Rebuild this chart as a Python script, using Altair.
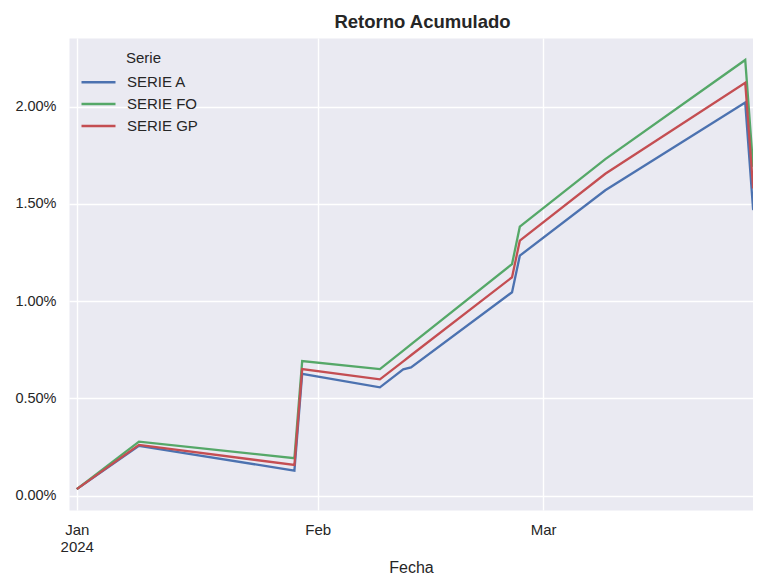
import altair as alt
import pandas as pd

# Dates (vertices)
fechas = [
    "2024-01-01", "2024-01-09", "2024-01-29", "2024-01-30", "2024-02-09",
    "2024-02-12", "2024-02-13", "2024-02-26", "2024-02-27", "2024-03-09",
    "2024-03-27", "2024-03-28", "2024-03-29",
]
# Cumulative return in percent
serie_a = [0.034, 0.256, 0.129, 0.626, 0.557, 0.650, 0.660, 1.046, 1.234, 1.570, 2.021, 1.478, 1.512]
serie_fo = [0.034, 0.278, 0.193, 0.692, 0.651, 0.746, 0.778, 1.191, 1.383, 1.730, 2.240, 1.700, 1.735]
serie_gp = [0.034, 0.261, 0.158, 0.651, 0.598, 0.691, 0.722, 1.123, 1.311, 1.655, 2.123, 1.589, 1.623]

series = {"SERIE A": serie_a, "SERIE FO": serie_fo, "SERIE GP": serie_gp}
colors = ["#4C72B0", "#55A868", "#C44E52"]

rows = []
for name, vals in series.items():
    for f, v in zip(fechas, vals):
        rows.append({"Fecha": f + "T00:00:00", "Serie": name, "Retorno": v / 100.0})
df = pd.DataFrame(rows)

FONT = "Liberation Sans"
TXT = "#262626"

x_enc = alt.X(
    "Fecha:T",
    title="Fecha",
    scale=alt.Scale(domain=[alt.DateTime(year=2023, month=12, date=31),
                            alt.DateTime(year=2024, month=3, date=28)]),
    axis=alt.Axis(
        values=[alt.DateTime(year=2024, month=1, date=1),
                alt.DateTime(year=2024, month=2, date=1),
                alt.DateTime(year=2024, month=3, date=1)],
        labelExpr="month(datum.value) == 0 ? [timeFormat(datum.value, '%b'), timeFormat(datum.value, '%Y')] : timeFormat(datum.value, '%b')",
        labelFlush=False,
        labelFontSize=15,
        labelLineHeight=17,
        labelPadding=12,
        titleFontSize=16,
        titleFontWeight="normal",
        titlePadding=5,
    ),
)

y_enc = alt.Y(
    "Retorno:Q",
    title=None,
    scale=alt.Scale(domain=[-0.000735, 0.02353], nice=False, zero=False),
    axis=alt.Axis(
        values=[0, 0.005, 0.01, 0.015, 0.02],
        format=".2%",
        labelFontSize=14.5,
        labelPadding=13,
        minExtent=56,
        maxExtent=56,
    ),
)

color_enc = alt.Color(
    "Serie:N",
    scale=alt.Scale(domain=list(series.keys()), range=colors),
    legend=alt.Legend(
        orient="none",
        legendX=19.5,
        legendY=13.3,
        title="Serie",
        titleAnchor="middle",
        titleFontSize=15,
        titleFontWeight="normal",
        titleColor=TXT,
        titleFont=FONT,
        titlePadding=6,
        labelFontSize=15,
        labelColor=TXT,
        labelFont=FONT,
        labelOffset=18.5,
        symbolType="M-2,0H2",
        symbolSize=289,
        symbolStrokeWidth=2.5,
        rowPadding=3.8,
        padding=0,
    ),
)

chart = (
    alt.Chart(df)
    .mark_line(strokeWidth=2.3, clip=True)
    .encode(x=x_enc, y=y_enc, color=color_enc)
    .properties(
        width=684,
        height=472,
        padding={"left": 5, "top": 5, "right": 0, "bottom": 0},
        title=alt.TitleParams(
            text="Retorno Acumulado",
            fontSize=18.5,
            fontWeight="bold",
            font=FONT,
            color=TXT,
            anchor="middle",
            frame="group",
            dx=11.5,
            offset=6.3,
        ),
    )
    .configure(background="white")
    .configure_view(fill="#EAEAF2", stroke="transparent")
    .configure_axis(
        grid=True,
        gridColor="white",
        gridWidth=1.4,
        domain=False,
        ticks=False,
        labelFont=FONT,
        titleFont=FONT,
        labelColor=TXT,
        titleColor=TXT,
    )
)

chart.save("out.html", embed_options={"renderer": "svg", "actions": False})
